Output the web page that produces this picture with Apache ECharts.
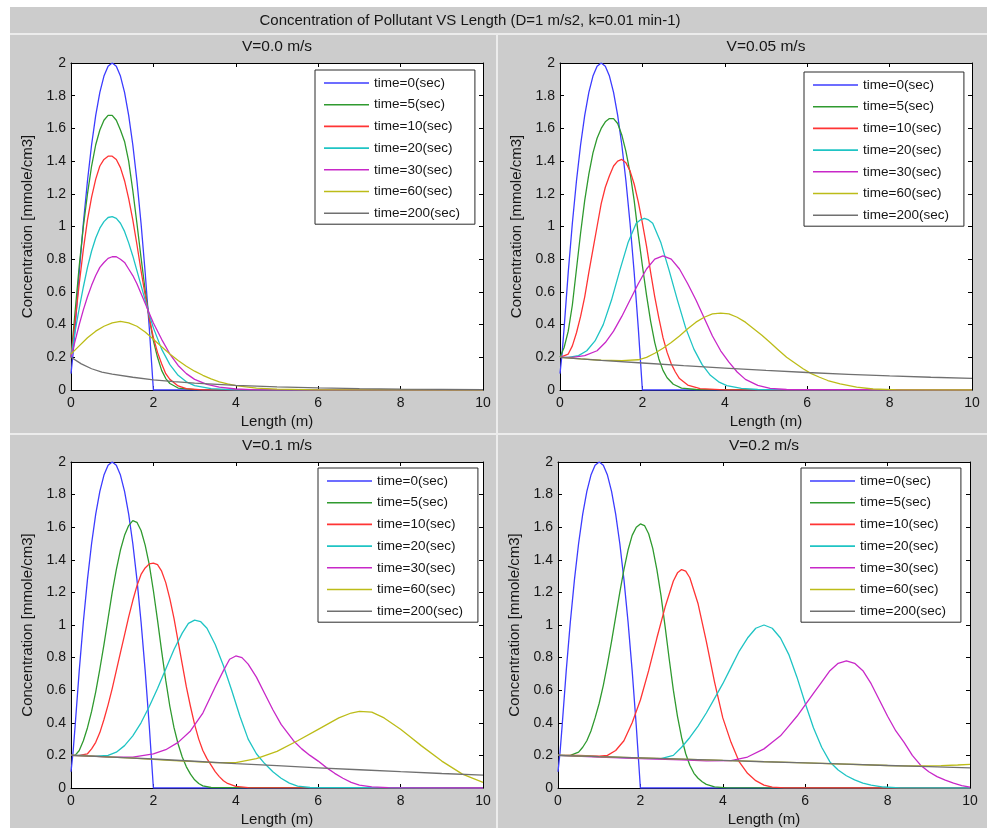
<!DOCTYPE html>
<html>
<head>
<meta charset="utf-8">
<script src="https://cdn.jsdelivr.net/npm/echarts@6/dist/echarts.min.js"></script>
<style>
html, body { margin: 0; padding: 0; background: #ffffff; }
#chart { width: 995px; height: 828px; }
</style>
</head>
<body>
<div id="chart"></div>
<script>
// ---- labels ----
const figureTitle = 'Concentration of Pollutant VS Length (D=1 m/s2, k=0.01 min-1)';
const panelTitles = ['V=0.0 m/s', 'V=0.05 m/s', 'V=0.1 m/s', 'V=0.2 m/s'];
const seriesNames = ['time=0(sec)', 'time=5(sec)', 'time=10(sec)', 'time=20(sec)', 'time=30(sec)', 'time=60(sec)', 'time=200(sec)'];
const seriesColors = ['#3c3cff', '#2f9a2f', '#ff3434', '#1fc4c4', '#c828c8', '#bcbc18', '#707070'];
const xTickValues = [0, 2, 4, 6, 8, 10];
const yTickValues = [0, 0.2, 0.4, 0.6, 0.8, 1, 1.2, 1.4, 1.6, 1.8, 2];
const xAxisName = 'Length (m)';
const yAxisName = 'Concentration [mmole/cm3]';

// ---- initial profile (t = 0), shared by every panel ----
const initialProfile = [[0,0.1],[0.05,0.22],[0.1,0.38],[0.2,0.72],[0.3,1.02],[0.4,1.28],[0.5,1.5],[0.6,1.68],[0.7,1.82],[0.8,1.92],[0.9,1.98],[1,2],[1.1,1.98],[1.2,1.92],[1.3,1.82],[1.4,1.68],[1.5,1.5],[1.6,1.28],[1.7,1.02],[1.8,0.72],[1.9,0.38],[2,0],[10,0]];

// ---- V = 0.0 m/s ----
const v00_t5 = [[0,0.2],[0.1,0.48],[0.2,0.76],[0.3,1.0],[0.4,1.2],[0.5,1.37],[0.6,1.5],[0.7,1.59],[0.8,1.65],[0.9,1.68],[1,1.68],[1.1,1.65],[1.2,1.59],[1.3,1.52],[1.4,1.4],[1.5,1.22],[1.6,1.02],[1.7,0.81],[1.8,0.61],[1.9,0.44],[2,0.3],[2.1,0.2],[2.2,0.12],[2.3,0.07],[2.4,0.04],[2.6,0.012],[3,0.002],[10,0]];
const v00_t10 = [[0,0.2],[0.1,0.42],[0.2,0.65],[0.3,0.86],[0.4,1.04],[0.5,1.18],[0.6,1.29],[0.7,1.37],[0.8,1.41],[0.9,1.43],[1,1.43],[1.1,1.41],[1.2,1.36],[1.3,1.28],[1.4,1.17],[1.5,1.04],[1.6,0.89],[1.7,0.73],[1.8,0.58],[1.9,0.44],[2,0.32],[2.1,0.23],[2.2,0.16],[2.3,0.1],[2.4,0.065],[2.6,0.025],[2.8,0.008],[3.2,0.001],[10,0]];
const v00_t20 = [[0,0.2],[0.1,0.36],[0.2,0.5],[0.3,0.63],[0.4,0.75],[0.5,0.85],[0.6,0.93],[0.7,0.99],[0.8,1.03],[0.9,1.055],[1,1.06],[1.1,1.05],[1.2,1.02],[1.3,0.97],[1.4,0.9],[1.5,0.82],[1.6,0.73],[1.7,0.64],[1.8,0.55],[1.9,0.46],[2,0.38],[2.2,0.25],[2.4,0.155],[2.6,0.09],[2.8,0.05],[3,0.027],[3.4,0.008],[4,0.001],[10,0]];
const v00_t30 = [[0,0.2],[0.1,0.3],[0.2,0.4],[0.3,0.49],[0.4,0.57],[0.5,0.64],[0.6,0.7],[0.7,0.75],[0.8,0.78],[0.9,0.805],[1,0.815],[1.1,0.815],[1.2,0.8],[1.3,0.78],[1.4,0.74],[1.5,0.7],[1.6,0.65],[1.7,0.59],[1.8,0.53],[1.9,0.47],[2,0.41],[2.2,0.31],[2.4,0.22],[2.6,0.15],[2.8,0.1],[3,0.065],[3.3,0.035],[3.6,0.017],[4,0.006],[4.5,0.001],[10,0]];
const v00_t60 = [[0,0.22],[0.2,0.27],[0.4,0.32],[0.6,0.36],[0.8,0.39],[1,0.41],[1.2,0.42],[1.4,0.41],[1.6,0.39],[1.8,0.355],[2,0.31],[2.2,0.265],[2.4,0.22],[2.6,0.18],[2.8,0.145],[3,0.115],[3.2,0.09],[3.4,0.068],[3.6,0.05],[3.8,0.037],[4,0.027],[4.5,0.012],[5,0.005],[6,0.001],[10,0]];
const v00_t200 = [[0,0.2],[0.25,0.16],[0.5,0.13],[0.75,0.11],[1,0.097],[1.5,0.078],[2,0.062],[2.5,0.051],[3,0.042],[4,0.028],[5,0.019],[6,0.013],[7,0.008],[8,0.005],[10,0.002]];

// ---- V = 0.05 m/s ----
const v005_t5 = [[0,0.2],[0.1,0.26],[0.2,0.36],[0.3,0.52],[0.4,0.74],[0.5,0.96],[0.6,1.16],[0.7,1.32],[0.8,1.45],[0.9,1.54],[1,1.6],[1.1,1.64],[1.2,1.66],[1.3,1.66],[1.4,1.63],[1.5,1.56],[1.6,1.46],[1.7,1.33],[1.8,1.16],[1.9,0.95],[2,0.76],[2.1,0.58],[2.2,0.42],[2.3,0.29],[2.4,0.19],[2.5,0.12],[2.6,0.075],[2.75,0.035],[2.95,0.012],[3.3,0.003],[10,0]];
const v005_t10 = [[0,0.2],[0.2,0.22],[0.3,0.27],[0.4,0.35],[0.5,0.45],[0.6,0.57],[0.7,0.72],[0.8,0.86],[0.9,1.0],[1,1.14],[1.1,1.24],[1.2,1.31],[1.3,1.37],[1.4,1.4],[1.5,1.41],[1.6,1.39],[1.7,1.34],[1.8,1.26],[1.9,1.15],[2,1.02],[2.1,0.88],[2.2,0.72],[2.3,0.57],[2.4,0.44],[2.5,0.32],[2.6,0.23],[2.7,0.16],[2.8,0.11],[2.9,0.07],[3.1,0.03],[3.4,0.008],[4,0.001],[10,0]];
const v005_t20 = [[0,0.2],[0.2,0.2],[0.45,0.21],[0.65,0.24],[0.85,0.3],[1.05,0.4],[1.25,0.55],[1.45,0.73],[1.65,0.9],[1.85,1.02],[1.95,1.04],[2.05,1.05],[2.15,1.04],[2.25,1.02],[2.45,0.9],[2.65,0.73],[2.85,0.55],[3.05,0.38],[3.25,0.25],[3.45,0.155],[3.65,0.09],[3.85,0.05],[4.05,0.027],[4.4,0.01],[4.8,0.003],[10,0]];
const v005_t30 = [[0,0.2],[0.3,0.2],[0.6,0.21],[0.9,0.24],[1.1,0.29],[1.3,0.36],[1.5,0.45],[1.7,0.55],[1.9,0.65],[2.1,0.74],[2.3,0.8],[2.5,0.82],[2.7,0.8],[2.9,0.74],[3.1,0.65],[3.3,0.55],[3.5,0.44],[3.7,0.33],[3.9,0.24],[4.1,0.17],[4.3,0.11],[4.5,0.065],[4.8,0.028],[5.1,0.01],[5.5,0.003],[10,0]];
const v005_t60 = [[0,0.2],[0.5,0.19],[1,0.182],[1.5,0.18],[1.9,0.185],[2.1,0.2],[2.3,0.225],[2.5,0.255],[2.7,0.29],[2.9,0.33],[3.1,0.375],[3.3,0.415],[3.5,0.445],[3.7,0.465],[3.9,0.47],[4.1,0.465],[4.3,0.445],[4.5,0.415],[4.7,0.375],[4.9,0.335],[5.1,0.29],[5.3,0.245],[5.5,0.2],[5.7,0.165],[5.9,0.13],[6.1,0.1],[6.3,0.078],[6.5,0.058],[6.8,0.038],[7.2,0.018],[7.6,0.006],[8.2,0.001],[10,0]];
const v005_t200 = [[0,0.2],[0.5,0.19],[1,0.181],[2,0.165],[3,0.149],[4,0.134],[5,0.12],[6,0.107],[7,0.096],[8,0.086],[9,0.078],[10,0.071]];

// ---- V = 0.1 m/s ----
const v01_t5 = [[0,0.2],[0.1,0.2],[0.2,0.23],[0.3,0.29],[0.4,0.37],[0.5,0.47],[0.6,0.59],[0.7,0.73],[0.8,0.88],[0.9,1.04],[1,1.2],[1.1,1.34],[1.2,1.46],[1.3,1.55],[1.4,1.61],[1.5,1.64],[1.6,1.63],[1.7,1.58],[1.8,1.49],[1.9,1.37],[2,1.21],[2.1,1.03],[2.2,0.84],[2.3,0.66],[2.4,0.5],[2.5,0.37],[2.6,0.27],[2.7,0.19],[2.8,0.13],[2.9,0.085],[3,0.05],[3.1,0.028],[3.2,0.013],[3.4,0.003],[10,0]];
const v01_t10 = [[0,0.2],[0.2,0.2],[0.4,0.21],[0.5,0.24],[0.6,0.28],[0.7,0.34],[0.8,0.42],[0.9,0.51],[1,0.61],[1.1,0.72],[1.2,0.83],[1.3,0.94],[1.4,1.05],[1.5,1.15],[1.6,1.24],[1.7,1.31],[1.8,1.35],[1.9,1.375],[2,1.38],[2.1,1.37],[2.2,1.33],[2.3,1.26],[2.4,1.16],[2.5,1.04],[2.6,0.9],[2.7,0.76],[2.8,0.62],[2.9,0.5],[3,0.39],[3.1,0.3],[3.2,0.23],[3.3,0.18],[3.4,0.14],[3.5,0.1],[3.6,0.07],[3.7,0.045],[3.8,0.028],[4,0.01],[4.3,0.002],[10,0]];
const v01_t20 = [[0,0.2],[0.3,0.2],[0.6,0.196],[0.9,0.2],[1.1,0.22],[1.3,0.26],[1.5,0.32],[1.7,0.4],[1.9,0.5],[2.1,0.61],[2.3,0.73],[2.5,0.85],[2.7,0.95],[2.85,1.01],[3,1.03],[3.15,1.02],[3.3,0.98],[3.5,0.88],[3.7,0.75],[3.9,0.6],[4.1,0.44],[4.3,0.3],[4.5,0.21],[4.7,0.15],[4.9,0.1],[5.1,0.06],[5.3,0.03],[5.5,0.012],[5.8,0.003],[10,0]];
const v01_t30 = [[0,0.2],[0.5,0.195],[1,0.19],[1.5,0.19],[2,0.21],[2.3,0.235],[2.6,0.28],[2.9,0.35],[3.2,0.46],[3.5,0.62],[3.7,0.72],[3.85,0.79],[4,0.81],[4.15,0.8],[4.3,0.76],[4.5,0.68],[4.7,0.58],[4.9,0.48],[5.1,0.39],[5.4,0.29],[5.6,0.24],[5.8,0.2],[6,0.165],[6.2,0.125],[6.4,0.09],[6.6,0.06],[6.8,0.035],[7,0.018],[7.3,0.007],[7.7,0.002],[10,0]];
const v01_t60 = [[0,0.2],[0.5,0.195],[1,0.19],[1.5,0.183],[2,0.175],[2.5,0.168],[3,0.162],[3.5,0.156],[4,0.155],[4.5,0.18],[5,0.225],[5.5,0.29],[6,0.36],[6.5,0.43],[6.8,0.46],[7,0.47],[7.3,0.465],[7.6,0.43],[8,0.36],[8.2,0.32],[8.5,0.26],[9,0.165],[9.5,0.085],[10,0.035]];
const v01_t200 = [[0,0.2],[1,0.19],[2,0.178],[3,0.164],[4,0.15],[5,0.137],[6,0.124],[7,0.112],[8,0.1],[9,0.089],[10,0.079]];

// ---- V = 0.2 m/s ----
const v02_t5 = [[0,0.2],[0.3,0.2],[0.5,0.22],[0.6,0.25],[0.7,0.29],[0.8,0.35],[0.9,0.43],[1,0.52],[1.1,0.63],[1.2,0.76],[1.3,0.9],[1.4,1.05],[1.5,1.2],[1.6,1.34],[1.7,1.46],[1.8,1.55],[1.9,1.6],[2,1.62],[2.1,1.61],[2.2,1.56],[2.3,1.47],[2.4,1.34],[2.5,1.18],[2.6,0.99],[2.7,0.79],[2.8,0.6],[2.9,0.44],[3,0.31],[3.1,0.21],[3.2,0.14],[3.3,0.09],[3.4,0.06],[3.5,0.038],[3.6,0.022],[3.8,0.007],[4.1,0.001],[10,0]];
const v02_t10 = [[0,0.2],[0.5,0.2],[1,0.196],[1.2,0.2],[1.4,0.23],[1.6,0.29],[1.8,0.4],[2,0.54],[2.2,0.72],[2.4,0.92],[2.6,1.11],[2.8,1.27],[2.9,1.32],[3,1.34],[3.1,1.33],[3.2,1.29],[3.4,1.13],[3.6,0.9],[3.8,0.65],[4,0.43],[4.2,0.28],[4.4,0.16],[4.6,0.09],[4.8,0.045],[5,0.018],[5.2,0.005],[5.5,0.001],[10,0]];
const v02_t20 = [[0,0.2],[1,0.193],[2,0.182],[2.5,0.18],[2.8,0.2],[3,0.25],[3.2,0.31],[3.4,0.38],[3.6,0.46],[3.8,0.55],[4,0.64],[4.2,0.74],[4.4,0.84],[4.6,0.92],[4.8,0.98],[5,1],[5.2,0.98],[5.4,0.92],[5.6,0.82],[5.8,0.68],[6,0.52],[6.2,0.37],[6.4,0.25],[6.6,0.16],[6.8,0.11],[7,0.075],[7.2,0.05],[7.4,0.03],[7.6,0.018],[7.9,0.006],[8.3,0.001],[10,0]];
const v02_t30 = [[0,0.2],[1,0.19],[2,0.18],[3,0.172],[3.6,0.166],[4.2,0.168],[4.6,0.19],[5,0.24],[5.2,0.28],[5.4,0.32],[5.6,0.38],[5.8,0.44],[6,0.51],[6.2,0.58],[6.4,0.65],[6.6,0.72],[6.8,0.765],[7,0.78],[7.2,0.765],[7.4,0.72],[7.6,0.64],[7.8,0.54],[8,0.44],[8.2,0.35],[8.4,0.28],[8.6,0.2],[8.8,0.14],[9,0.1],[9.2,0.07],[9.4,0.048],[9.6,0.03],[9.8,0.015],[10,0.006]];
const v02_t60 = [[0,0.2],[2,0.185],[4,0.169],[6,0.154],[8,0.138],[8.3,0.136],[8.8,0.135],[9.3,0.137],[9.7,0.141],[10,0.145]];
const v02_t200 = [[0,0.2],[1,0.192],[2,0.185],[3,0.177],[4,0.169],[5,0.161],[6,0.154],[7,0.146],[8,0.138],[9,0.131],[10,0.123]];

// curves of each panel, in legend order
const panelCurves = [
  [initialProfile, v00_t5, v00_t10, v00_t20, v00_t30, v00_t60, v00_t200],
  [initialProfile, v005_t5, v005_t10, v005_t20, v005_t30, v005_t60, v005_t200],
  [initialProfile, v01_t5, v01_t10, v01_t20, v01_t30, v01_t60, v01_t200],
  [initialProfile, v02_t5, v02_t10, v02_t20, v02_t30, v02_t60, v02_t200]
];

// ---- layout ----
const FONT = '"Liberation Sans", Arial, Helvetica, sans-serif';
const TEXT_COLOR = '#161616';
const FIG_GRAY = '#cccccc';
const SEP_LIGHT = '#ececec';
const plotBoxes = [
  { left: 71,  top: 63,  width: 412, height: 327 },
  { left: 560, top: 63,  width: 412, height: 327 },
  { left: 71,  top: 462, width: 412, height: 326 },
  { left: 558, top: 462, width: 412, height: 326 }
];
const legendBoxes = [
  { left: 315, top: 70 },
  { left: 804, top: 72 },
  { left: 318, top: 468 },
  { left: 801, top: 468 }
];

const grids = [], xAxes = [], yAxes = [], legends = [], series = [], panelTexts = [];
const axisLineStyle = { show: true, onZero: false, lineStyle: { color: '#000000', width: 1 } };
const tickStyle = { show: true, inside: true, length: 4, lineStyle: { color: '#000000', width: 1 } };
const labelStyle = { color: TEXT_COLOR, fontSize: 14, fontFamily: FONT };
const nameStyle = { color: TEXT_COLOR, fontSize: 15, fontFamily: FONT };

plotBoxes.forEach((box, p) => {
  grids.push({
    left: box.left, top: box.top, width: box.width, height: box.height,
    show: true, backgroundColor: '#ffffff', borderWidth: 0,
    containLabel: false, outerBoundsMode: 'none'
  });
  const xRange = { min: xTickValues[0], max: xTickValues[xTickValues.length - 1], interval: xTickValues[1] - xTickValues[0] };
  const yRange = { min: yTickValues[0], max: yTickValues[yTickValues.length - 1], interval: 0.2 };
  xAxes.push(Object.assign({
    type: 'value', gridIndex: p, position: 'bottom',
    name: xAxisName, nameLocation: 'middle', nameGap: 24,
    nameTextStyle: nameStyle,
    axisLine: axisLineStyle, axisTick: tickStyle,
    axisLabel: Object.assign({ margin: 6 }, labelStyle),
    splitLine: { show: false }
  }, xRange));
  xAxes.push(Object.assign({
    type: 'value', gridIndex: p, position: 'top',
    axisLine: axisLineStyle, axisTick: tickStyle,
    axisLabel: { show: false }, splitLine: { show: false }
  }, xRange));
  yAxes.push(Object.assign({
    type: 'value', gridIndex: p, position: 'left',
    name: yAxisName, nameLocation: 'middle', nameGap: 36, nameRotate: 90,
    nameTextStyle: nameStyle,
    axisLine: axisLineStyle, axisTick: tickStyle,
    axisLabel: Object.assign({ margin: 5 }, labelStyle),
    splitLine: { show: false }
  }, yRange));
  yAxes.push(Object.assign({
    type: 'value', gridIndex: p, position: 'right',
    axisLine: axisLineStyle, axisTick: tickStyle,
    axisLabel: { show: false }, splitLine: { show: false }
  }, yRange));

  legends.push({
    data: seriesNames, orient: 'vertical',
    left: legendBoxes[p].left, top: legendBoxes[p].top,
    icon: 'rect', itemWidth: 45, itemHeight: 1.6, itemGap: 7.7,
    padding: [6, 15, 4, 9],
    backgroundColor: '#ffffff', borderColor: '#2a2a2a', borderWidth: 1, borderRadius: 0,
    textStyle: { color: TEXT_COLOR, fontSize: 13.5, fontFamily: FONT, lineHeight: 14 },
    selectedMode: false
  });

  panelCurves[p].forEach((curve, i) => {
    series.push({
      type: 'line', name: seriesNames[i],
      xAxisIndex: 2 * p, yAxisIndex: 2 * p,
      data: curve,
      symbol: 'none', showSymbol: false, smooth: false,
      color: seriesColors[i],
      itemStyle: { color: seriesColors[i] },
      lineStyle: { color: seriesColors[i], width: 1.3 },
      emphasis: { disabled: true },
      silent: true, animation: false, clip: true
    });
  });

  panelTexts.push({
    type: 'text', z: 10, silent: true,
    x: box.left + box.width / 2, y: box.top - 16,
    style: { text: panelTitles[p], fill: TEXT_COLOR, font: '15.5px ' + FONT, textAlign: 'center', textVerticalAlign: 'middle' }
  });
});

// figure frame: gray panels with light separators
const frame = [
  { type: 'rect', z: -10, silent: true, shape: { x: 0, y: 0, width: 995, height: 7 }, style: { fill: '#ffffff' } },
  { type: 'rect', z: -10, silent: true, shape: { x: 0, y: 0, width: 10, height: 828 }, style: { fill: '#ffffff' } },
  { type: 'rect', z: -10, silent: true, shape: { x: 987, y: 0, width: 8, height: 828 }, style: { fill: '#ffffff' } },
  { type: 'rect', z: -9, silent: true, shape: { x: 10, y: 33, width: 977, height: 2 }, style: { fill: SEP_LIGHT } },
  { type: 'rect', z: -9, silent: true, shape: { x: 10, y: 433, width: 977, height: 2 }, style: { fill: SEP_LIGHT } },
  { type: 'rect', z: -9, silent: true, shape: { x: 496, y: 35, width: 2, height: 793 }, style: { fill: SEP_LIGHT } },
  { type: 'text', z: 10, silent: true, x: 470, y: 21,
    style: { text: figureTitle, fill: TEXT_COLOR, font: '15px ' + FONT, textAlign: 'center', textVerticalAlign: 'middle' } }
];

const chart = echarts.init(document.getElementById('chart'), null, { renderer: 'canvas' });
chart.setOption({
  backgroundColor: FIG_GRAY,
  animation: false,
  tooltip: { show: false },
  grid: grids,
  xAxis: xAxes,
  yAxis: yAxes,
  legend: legends,
  series: series,
  graphic: { elements: frame.concat(panelTexts) }
});
</script>
</body>
</html>
